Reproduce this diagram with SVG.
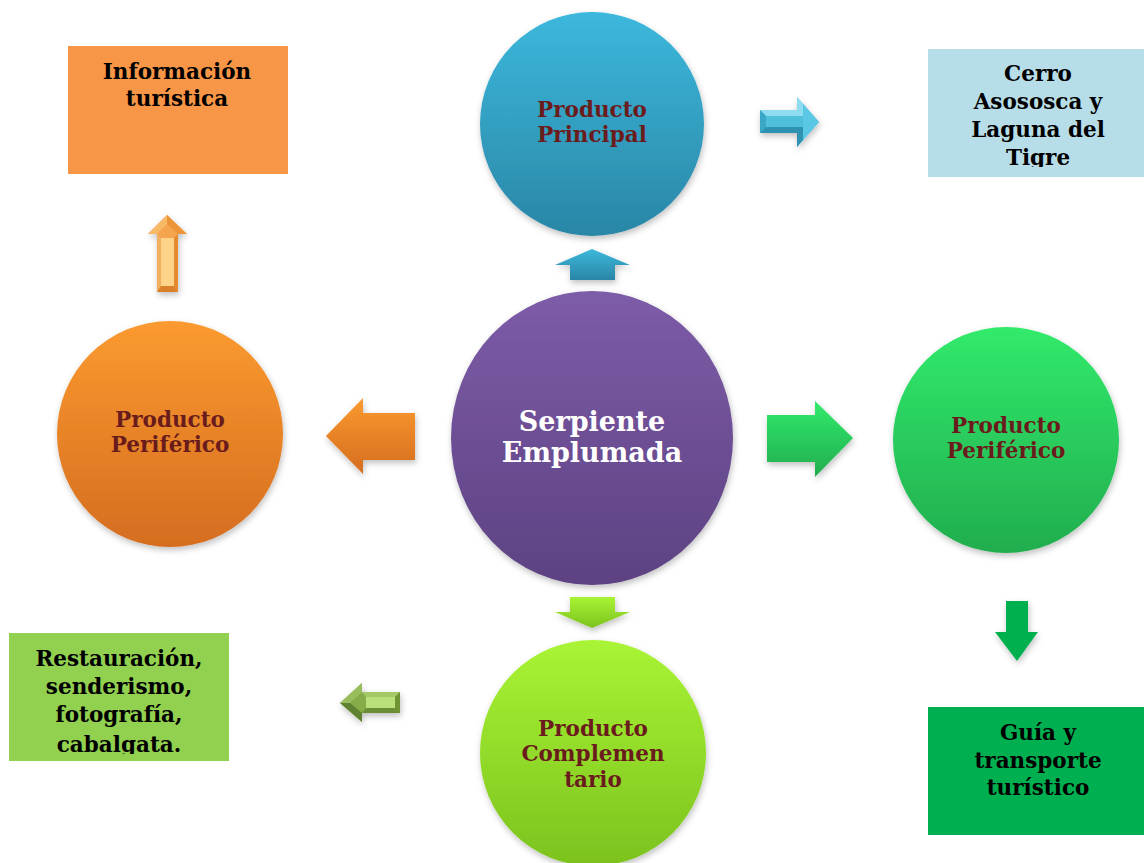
<svg xmlns="http://www.w3.org/2000/svg" width="1144" height="863" viewBox="0 0 1144 863">
<style>
.ct{font-family:"DejaVu Serif","Liberation Serif",serif;font-weight:bold;font-size:21.5px;fill:#6a1c1c;text-anchor:middle}
.cw{font-family:"DejaVu Serif","Liberation Serif",serif;font-weight:bold;font-size:27px;fill:#ffffff;text-anchor:middle}
.bt{font-family:"DejaVu Serif","Liberation Serif",serif;font-weight:bold;font-size:21.5px;fill:#000000;text-anchor:middle}
</style>
<defs>
<linearGradient id="gBlue" x1="0" y1="0" x2="0" y2="1"><stop offset="0" stop-color="#3cb8dc"/><stop offset="1" stop-color="#2a86a6"/></linearGradient>
<linearGradient id="gPurple" x1="0" y1="0" x2="0" y2="1"><stop offset="0" stop-color="#7d5ca8"/><stop offset="1" stop-color="#5d4282"/></linearGradient>
<linearGradient id="gOrange" x1="0" y1="0" x2="0" y2="1"><stop offset="0" stop-color="#fb9a30"/><stop offset="1" stop-color="#d56d1f"/></linearGradient>
<linearGradient id="gGreen" x1="0" y1="0" x2="0" y2="1"><stop offset="0" stop-color="#31ea6b"/><stop offset="1" stop-color="#22ad4e"/></linearGradient>
<linearGradient id="gLime" x1="0" y1="0" x2="0" y2="1"><stop offset="0" stop-color="#a9f435"/><stop offset="1" stop-color="#7cc21e"/></linearGradient>
<filter id="sh" x="-20%" y="-20%" width="140%" height="140%"><feDropShadow dx="1" dy="3" stdDeviation="3" flood-color="#000" flood-opacity="0.25"/></filter>
<clipPath id="c1"><rect x="68" y="46" width="220" height="120"/></clipPath>
<clipPath id="c2"><rect x="928" y="49" width="216" height="118"/></clipPath>
<clipPath id="c3"><rect x="9" y="633" width="220" height="121"/></clipPath>
<clipPath id="c4"><rect x="928" y="707" width="216" height="120"/></clipPath>
</defs>

<g id="connectors" filter="url(#sh)">
  <g id="arrow-blue-right">
    <polygon points="760,110 797,110 797,97 819,122 797,147 797,133 760,133" fill="#4fbfdc"/>
    <polygon points="760,110 797,110 797,97 803,104 803,116 766,116" fill="#8ddcf0"/>
    <polygon points="760,110 766,116 766,127 760,133" fill="#3aa7c6"/>
    <polygon points="760,133 766,127 803,127 803,140 797,147 797,133" fill="#2f93b0"/>
    <polygon points="803,104 819,122 803,140" fill="#5ac8e4"/>
  </g>
  <g id="arrow-orange-up">
    <polygon points="167,215 187,234 178,234 178,292 157,292 157,234 148,234" fill="#f5a54e"/>
    <polygon points="161,238 174,238 174,286 161,286" fill="#fdd38a"/>
    <polygon points="157,234 161,238 161,286 157,292" fill="#f0b060"/>
    <polygon points="178,234 174,238 174,286 178,292" fill="#e68a2e"/>
    <polygon points="157,292 161,286 174,286 178,292" fill="#d9802a"/>
    <polygon points="167,215 148,234 157,234 167,224" fill="#f7b868"/>
    <polygon points="167,215 187,234 178,234 167,224" fill="#ee9438"/>
  </g>
  <polygon id="arrow-center-up" points="592,249 630,265 615,265 615,280 570,280 570,265 555,265" fill="url(#gBlue)"/>
  <polygon id="arrow-center-left" points="326,436 363,398 363,413 415,413 415,460 363,460 363,474" fill="url(#gOrange)"/>
  <polygon id="arrow-center-right" points="767,415 815,415 815,401 853,438 815,477 815,462 767,462" fill="url(#gGreen)"/>
  <polygon id="arrow-center-down" points="570,597 615,597 615,612 630,612 592,628 555,612 570,612" fill="url(#gLime)"/>
  <g id="arrow-olive-left">
    <polygon points="340,703 362,683 362,692 400,692 400,713 362,713 362,722" fill="#86ac4a"/>
    <polygon points="366,697 395,697 395,708 366,708" fill="#b9e07a"/>
    <polygon points="362,692 400,692 395,697 366,697" fill="#a4c866"/>
    <polygon points="400,692 400,713 395,708 395,697" fill="#6f9436"/>
    <polygon points="362,713 400,713 395,708 366,708" fill="#6a8d34"/>
    <polygon points="340,703 362,683 362,692 350,703" fill="#98bd5c"/>
    <polygon points="340,703 362,722 362,713 350,703" fill="#5f8230"/>
  </g>
  <polygon id="arrow-green-down" points="1006,601 1028,601 1028,632 1038,632 1017,661 995,632 1006,632" fill="#00b050"/>
</g>

<g id="box-informacion">
  <rect x="68" y="46" width="220" height="128" fill="#f79646"/>
  <g clip-path="url(#c1)">
    <text class="bt" x="177" y="79">Información</text>
    <text class="bt" x="177" y="106">turística</text>
  </g>
</g>

<g id="box-cerro">
  <rect x="928" y="49" width="216" height="128" fill="#b7dde8"/>
  <g clip-path="url(#c2)">
    <text class="bt" x="1038" y="81">Cerro</text>
    <text class="bt" x="1038" y="109">Asososca y</text>
    <text class="bt" x="1038" y="137">Laguna del</text>
    <text class="bt" x="1038" y="165">Tigre</text>
  </g>
</g>

<g id="box-restauracion">
  <rect x="9" y="633" width="220" height="128" fill="#92d050"/>
  <g clip-path="url(#c3)">
    <text class="bt" x="119" y="666">Restauración,</text>
    <text class="bt" x="119" y="694">senderismo,</text>
    <text class="bt" x="119" y="722">fotografía,</text>
    <text class="bt" x="119" y="752">cabalgata.</text>
  </g>
</g>

<g id="box-guia">
  <rect x="928" y="707" width="216" height="128" fill="#00b050"/>
  <g clip-path="url(#c4)">
    <text class="bt" x="1038" y="740">Guía y</text>
    <text class="bt" x="1038" y="768">transporte</text>
    <text class="bt" x="1038" y="795">turístico</text>
  </g>
</g>

<g id="node-principal">
  <circle cx="592" cy="124" r="112" fill="url(#gBlue)" filter="url(#sh)"/>
  <text class="ct" x="592" y="117">Producto</text>
  <text class="ct" x="592" y="142">Principal</text>
</g>

<g id="node-center">
  <ellipse cx="592" cy="438" rx="141" ry="147" fill="url(#gPurple)" filter="url(#sh)"/>
  <text class="cw" x="592" y="431">Serpiente</text>
  <text class="cw" x="592" y="462">Emplumada</text>
</g>

<g id="node-periferico-left">
  <circle cx="170" cy="434" r="113" fill="url(#gOrange)" filter="url(#sh)"/>
  <text class="ct" x="170" y="427">Producto</text>
  <text class="ct" x="170" y="452">Periférico</text>
</g>

<g id="node-periferico-right">
  <circle cx="1006" cy="440" r="113" fill="url(#gGreen)" filter="url(#sh)"/>
  <text class="ct" x="1006" y="433">Producto</text>
  <text class="ct" x="1006" y="458">Periférico</text>
</g>

<g id="node-complementario">
  <circle cx="593" cy="753" r="113" fill="url(#gLime)" filter="url(#sh)"/>
  <text class="ct" x="593" y="736">Producto</text>
  <text class="ct" x="593" y="761">Complemen</text>
  <text class="ct" x="593" y="787">tario</text>
</g>
</svg>
